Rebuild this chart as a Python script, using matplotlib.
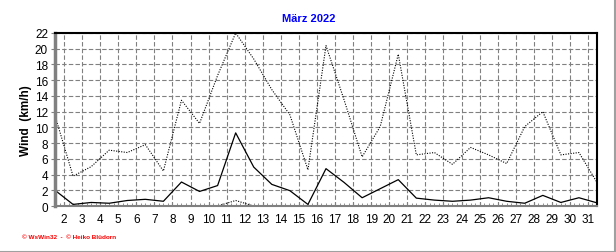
import numpy as np
import matplotlib.pyplot as plt
from matplotlib.lines import Line2D

plt.rcParams['font.family'] = ['Liberation Sans', 'DejaVu Sans']

# Tage im März 2022 (Punkte jeweils in Tagesmitte)
tage = np.arange(1, 32)
# Böen (gepunktet), Mittelwind (durchgezogen), kleine Werte (gepunktet unten)
boeen = [11.5, 3.8, 5.0, 7.1, 6.8, 7.8, 4.45, 13.45, 10.5, 16.6,
         22.0, 18.7, 14.8, 11.6, 4.6, 20.4, 13.5, 6.25, 10.1, 19.3,
         6.5, 6.8, 5.3, 7.45, 6.5, 5.4, 10.1, 12.0, 6.5, 6.8, 3.0]
mittel = [2.0, 0.2, 0.45, 0.35, 0.7, 0.85, 0.6, 3.05, 1.85, 2.6,
          9.3, 4.95, 2.75, 1.95, 0.2, 4.75, 3.0, 1.05, 2.2, 3.35,
          1.0, 0.75, 0.6, 0.75, 1.05, 0.6, 0.35, 1.35, 0.45, 1.05, 0.4]
minimum = [0, 0, 0, 0, 0, 0, 0, 0, 0, 0,
           0.7, 0, 0, 0, 0, 0, 0, 0, 0, 0,
           0, 0, 0, 0, 0, 0, 0, 0, 0, 0, 0]
xticks = list(range(2, 32))
yticks = list(range(0, 23, 2))

fig = plt.figure(figsize=(6.16, 2.53), dpi=100)
ax = fig.add_axes([55/616, 1-207/253, 542/616, 173/253])

x = tage + 0.5
ax.plot(x, boeen, color='black', lw=0.8, ls=(0, (1, 1.3)))
ax.plot(x, mittel, color='black', lw=0.9)
ax.plot(x, minimum, color='black', lw=0.8, ls=(0, (1, 1.3)), clip_on=False)

ax.set_xlim(1.5, 31.5)
ax.set_ylim(0, 22)
ax.set_xticks(xticks)
ax.set_xticks(np.arange(1.5, 31.51, 0.25), minor=True)
ax.set_yticks(yticks)
ax.tick_params(axis='x', which='major', direction='in', length=3, labelsize=8.5, pad=5, color='#808080')
ax.tick_params(axis='x', which='minor', direction='in', length=2, color='#808080')
ax.tick_params(axis='y', direction='out', length=3, labelsize=8.5, pad=2, color='#808080')

ax.grid(True, color='#808080', ls=(0, (4, 2)), lw=0.8)
ax.set_axisbelow(True)

ax.spines['top'].set_linewidth(1.5)
ax.spines['right'].set_linewidth(1.5)
ax.spines['left'].set_color('#808080')
ax.spines['left'].set_linewidth(2.5)
ax.spines['bottom'].set_color('#808080')
ax.spines['bottom'].set_linewidth(1.5)

ax.set_ylabel('Wind  (km/h)', fontsize=8.5, fontweight='bold', labelpad=2)
fig.text(0.502, 1-19/253, 'März 2022', color='#0000ff', fontsize=8, fontweight='bold',
         ha='center', va='center')
fig.text(22/616, 1-238/253, '© WsWin32  -  © Heiko Blüdorn', color='red', fontsize=4.6,
         fontweight='bold', ha='left', va='center')

# grauer Rahmen rechts und unten
fig.add_artist(Line2D([0, 1], [0.5/253, 0.5/253], color='#a0a0a0', lw=1.5, transform=fig.transFigure))
fig.add_artist(Line2D([1-1/616, 1-1/616], [0, 1], color='#a0a0a0', lw=1.5, transform=fig.transFigure))

fig.savefig('out.png', dpi=100)
